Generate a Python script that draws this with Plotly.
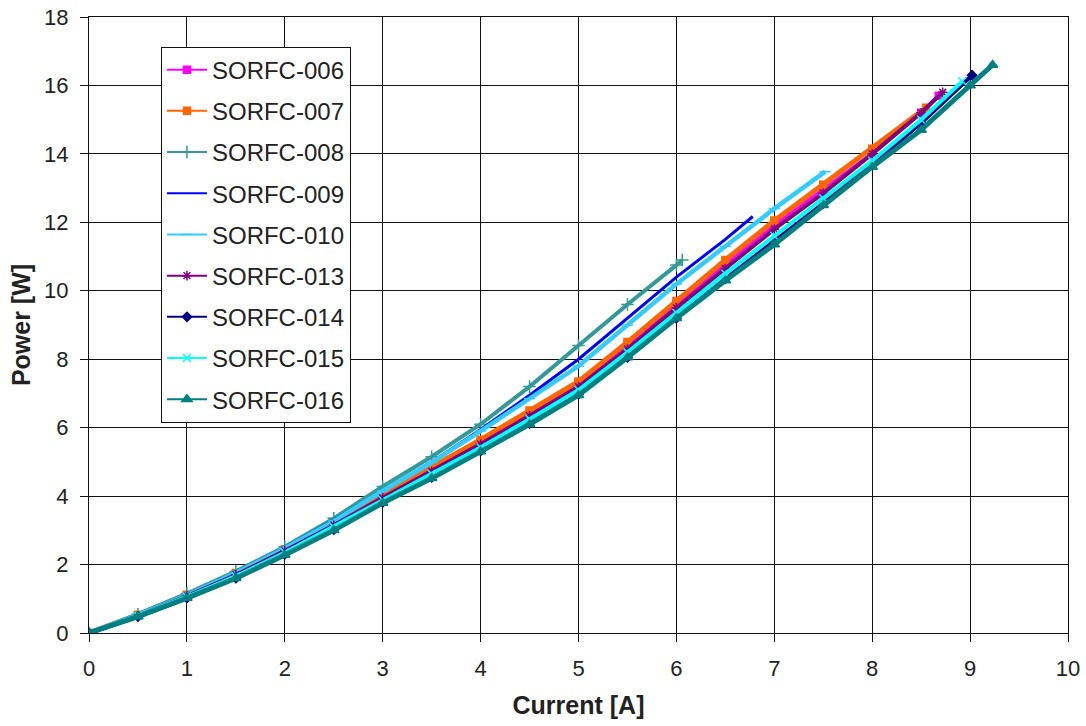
import plotly.graph_objects as go

# ---- data (Current [A], Power [W]) ----
s006_x = [0, 0.5, 1, 1.5, 2, 2.5, 3, 3.5, 4, 4.5, 5, 5.5, 6, 6.5, 7, 7.5, 8, 8.5, 8.68]
s006_y = [0, 0.52, 1.1, 1.72, 2.42, 3.2, 4.0, 4.78, 5.58, 6.42, 7.28, 8.4, 9.6, 10.75, 11.9, 12.95, 14.0, 15.2, 15.7]

s007_x = [0, 0.5, 1, 1.5, 2, 2.5, 3, 3.5, 4, 4.5, 5, 5.5, 6, 6.5, 7, 7.5, 8, 8.55]
s007_y = [0, 0.53, 1.12, 1.75, 2.45, 3.25, 4.05, 4.85, 5.65, 6.5, 7.35, 8.5, 9.7, 10.9, 12.05, 13.1, 14.15, 15.35]

s008_x = [0, 0.5, 1, 1.5, 2, 2.5, 3, 3.5, 4, 4.5, 5, 5.5, 6, 6.06]
s008_y = [0, 0.55, 1.15, 1.8, 2.52, 3.35, 4.28, 5.15, 6.1, 7.2, 8.4, 9.6, 10.75, 10.9]

s009_x = [0, 0.5, 1, 1.5, 2, 2.5, 3, 3.5, 4, 4.5, 5, 5.5, 6, 6.5, 6.78]
s009_y = [0, 0.52, 1.1, 1.75, 2.48, 3.3, 4.15, 5.0, 5.95, 6.95, 8.0, 9.2, 10.4, 11.5, 12.17]

s010_x = [0, 0.5, 1, 1.5, 2, 2.5, 3, 3.5, 4, 4.5, 5, 5.5, 6, 6.5, 7, 7.52]
s010_y = [0, 0.52, 1.1, 1.75, 2.47, 3.27, 4.15, 4.98, 5.9, 6.85, 7.8, 9.0, 10.2, 11.3, 12.4, 13.48]

s013_x = [0, 0.5, 1, 1.5, 2, 2.5, 3, 3.5, 4, 4.5, 5, 5.5, 6, 6.5, 7, 7.5, 8, 8.5, 8.72]
s013_y = [0, 0.5, 1.08, 1.7, 2.4, 3.15, 3.95, 4.72, 5.52, 6.35, 7.2, 8.3, 9.5, 10.65, 11.8, 12.85, 14.0, 15.2, 15.8]

s014_x = [0, 0.5, 1, 1.5, 2, 2.5, 3, 3.5, 4, 4.5, 5, 5.5, 6, 6.5, 7, 7.5, 8, 8.5, 9.02]
s014_y = [0, 0.48, 1.02, 1.6, 2.3, 3.02, 3.82, 4.55, 5.32, 6.12, 6.97, 8.05, 9.2, 10.35, 11.45, 12.55, 13.7, 14.9, 16.3]

s015_x = [0, 0.5, 1, 1.5, 2, 2.5, 3, 3.5, 4, 4.5, 5, 5.5, 6, 6.5, 7, 7.5, 8, 8.5, 8.92]
s015_y = [0, 0.5, 1.06, 1.66, 2.35, 3.1, 3.88, 4.65, 5.42, 6.25, 7.1, 8.2, 9.35, 10.5, 11.6, 12.7, 13.8, 15.0, 16.12]

s016_x = [0, 0.5, 1, 1.5, 2, 2.5, 3, 3.5, 4, 4.5, 5, 5.5, 6, 6.5, 7, 7.5, 8, 8.5, 9, 9.23]
s016_y = [0, 0.48, 1.02, 1.6, 2.28, 3.0, 3.8, 4.52, 5.3, 6.1, 6.95, 8.05, 9.2, 10.3, 11.35, 12.5, 13.62, 14.7, 16.0, 16.6]

names = ["SORFC-006", "SORFC-007", "SORFC-008", "SORFC-009", "SORFC-010",
         "SORFC-013", "SORFC-014", "SORFC-015", "SORFC-016"]
xs = [s006_x, s007_x, s008_x, s009_x, s010_x, s013_x, s014_x, s015_x, s016_x]
ys = [s006_y, s007_y, s008_y, s009_y, s010_y, s013_y, s014_y, s015_y, s016_y]
colors = ["#FF00FF", "#FF6600", "#339999", "#0000FF", "#33CCFF",
          "#800080", "#000080", "#00FFFF", "#008080"]
symbols = ["square", "square", "cross-thin-open", None, "line-ew-open",
           "asterisk-open", "diamond", "x-thin-open", "triangle-up"]
msizes = [7, 7, 9, 0, 8, 8, 7, 8, 9]
lwidths = [4, 5, 4, 3, 4.5, 4, 4, 4, 5]

FONT = "Liberation Sans, Arial, sans-serif"

fig = go.Figure()
# data traces (thick, like the dense marker bands)
for n, x, y, c, s, ms, lw in zip(names, xs, ys, colors, symbols, msizes, lwidths):
    mode = "lines" if s is None else "lines+markers"
    fig.add_trace(go.Scatter(
        x=x, y=y, name=n, mode=mode, showlegend=False,
        line=dict(color=c, width=lw),
        marker=dict(symbol=s or "circle", size=ms, color=c, line=dict(color=c, width=1.5)),
    ))
# legend entries (thin line with a marker)
for n, c, s, ms in zip(names, colors, symbols, msizes):
    mode = "lines" if s is None else "lines+markers"
    fig.add_trace(go.Scatter(
        x=[None], y=[None], name=n, mode=mode, legendgroup=n,
        line=dict(color=c, width=2),
        marker=dict(symbol=s or "circle", size=ms, color=c, line=dict(color=c, width=1.5)),
    ))

axis_common = dict(
    showgrid=True, gridcolor="#111111", gridwidth=1.3,
    showline=True, linecolor="#111111", linewidth=1.3, mirror=True,
    ticks="outside", ticklen=8, tickcolor="#111111",
    tickfont=dict(family=FONT, size=22, color="#222222"),
    zeroline=False, automargin=False,
)

fig.update_layout(
    width=1086, height=726,
    margin=dict(l=89, r=18, t=17, b=93),
    paper_bgcolor="white", plot_bgcolor="white",
    font=dict(family=FONT, color="#222222"),
    xaxis=dict(range=[0, 10], dtick=1, ticklabelstandoff=7,
               title=dict(text="<b>Current [A]</b>", font=dict(family=FONT, size=25), standoff=16),
               **axis_common),
    yaxis=dict(range=[0, 18], dtick=2, ticklabelstandoff=7,
               title=dict(text="<b>Power [W]</b>", font=dict(family=FONT, size=25), standoff=6),
               **axis_common),
    legend=dict(x=0.0735, y=0.952, xanchor="left", yanchor="top",
                bgcolor="white", bordercolor="#111111", borderwidth=1,
                font=dict(family=FONT, size=24, color="#222222"),
                tracegroupgap=7, itemwidth=40),
)

fig.write_html("out.html")
